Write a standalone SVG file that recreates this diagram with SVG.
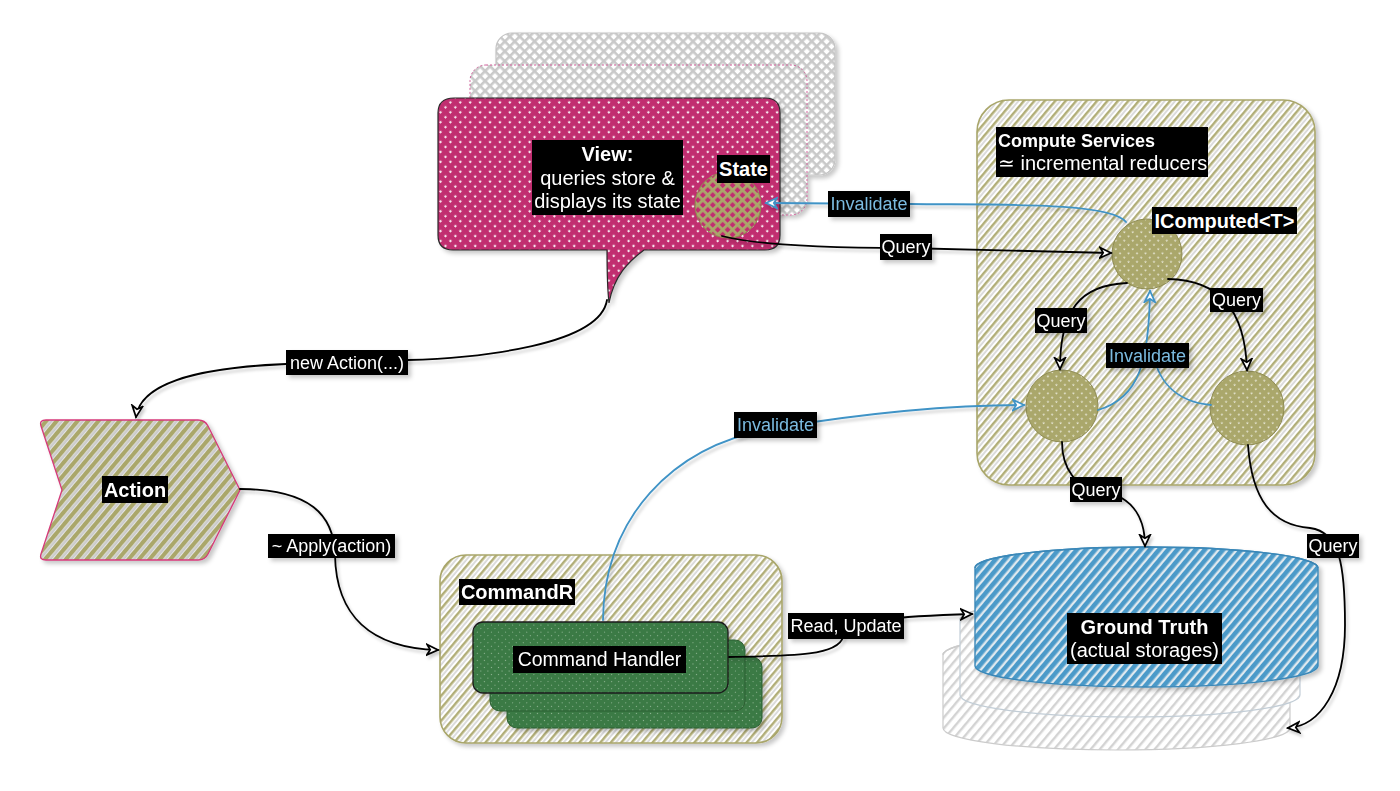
<svg xmlns="http://www.w3.org/2000/svg" width="1400" height="791" viewBox="0 0 1400 791">
<defs>
<style>
.lbl{fill:#000;}
.t{font-family:"Liberation Sans",Arial,sans-serif;fill:#fff;}
.e{font-size:18px;text-anchor:middle;}
.inv{fill:#7bbbe0;}
.n{font-size:20px;}
.b{font-weight:bold;}
.c{text-anchor:middle;}
.edge{fill:none;stroke:#000;stroke-width:1.8;stroke-linecap:round;}
.blue{stroke:#3f93c6;}
</style>
<filter id="sh" x="-10%" y="-10%" width="130%" height="130%"><feDropShadow dx="3" dy="3" stdDeviation="2" flood-color="#000" flood-opacity="0.22"/></filter>
<filter id="shl" x="-10%" y="-10%" width="130%" height="130%"><feDropShadow dx="2" dy="3" stdDeviation="1.5" flood-color="#000" flood-opacity="0.2"/></filter>
<pattern id="pPink" width="7" height="7" patternUnits="userSpaceOnUse" patternTransform="rotate(45)"><rect width="7" height="7" fill="#f6e3ec"/><rect width="4.8" height="7" fill="#c12e70"/><rect width="7" height="4.8" fill="#c12e70"/></pattern>
<pattern id="pDot" width="6" height="6" patternUnits="userSpaceOnUse" patternTransform="rotate(45)"><rect width="6" height="6" fill="#ecebdc"/><rect width="4.4" height="6" fill="#aaa76b"/><rect width="6" height="4.4" fill="#aaa76b"/></pattern>
<pattern id="pStateDot" width="7" height="7" patternUnits="userSpaceOnUse" patternTransform="rotate(45)"><rect width="7" height="7" fill="#c12e70"/><rect width="2.8" height="7" fill="#aaa76b"/><rect width="7" height="2.8" fill="#aaa76b"/></pattern>
<pattern id="pOlive" width="8" height="8" patternUnits="userSpaceOnUse" patternTransform="rotate(40)"><rect width="8" height="8" fill="#fff"/><rect x="0" width="2.5" height="8" fill="#b1ae78"/><rect x="4.3" width="1.6" height="8" fill="#d4d4d4"/></pattern>
<pattern id="pAction" width="8" height="8" patternUnits="userSpaceOnUse" patternTransform="rotate(40)"><rect width="8" height="8" fill="#e4e4e4"/><rect x="0" width="4.2" height="8" fill="#aaa76b"/><rect x="5.4" width="1.4" height="8" fill="#c2c2c2"/></pattern>
<pattern id="pBlue" width="7" height="7" patternUnits="userSpaceOnUse" patternTransform="rotate(40)"><rect width="7" height="7" fill="#dfe9ef"/><rect x="0" width="4.6" height="7" fill="#4b9ac9"/></pattern>
<pattern id="pGreen" width="5" height="5" patternUnits="userSpaceOnUse" patternTransform="rotate(45)"><rect width="5" height="5" fill="#8fb595"/><rect width="4" height="5" fill="#3b7a44"/><rect width="5" height="4" fill="#3b7a44"/></pattern>
<pattern id="pGray" width="7" height="7" patternUnits="userSpaceOnUse" patternTransform="rotate(45)"><rect width="7" height="7" fill="#fff"/><rect width="2.6" height="7" fill="#c9c9c9"/><rect width="7" height="2.6" fill="#c9c9c9"/></pattern>
<pattern id="pGrayH" width="7" height="7" patternUnits="userSpaceOnUse" patternTransform="rotate(40)"><rect width="7" height="7" fill="#fff"/><rect width="2.4" height="7" fill="#cfcfcf"/></pattern>
<marker id="ah" viewBox="0 0 12 12" refX="10.5" refY="6" markerWidth="14" markerHeight="14" markerUnits="userSpaceOnUse" orient="auto"><path d="M1,1.5 L10.5,6 L1,10.5 L3.8,6 Z" fill="#fff" stroke="#000" stroke-width="1.5"/></marker>
<marker id="ahb" viewBox="0 0 12 12" refX="10.5" refY="6" markerWidth="14" markerHeight="14" markerUnits="userSpaceOnUse" orient="auto"><path d="M1,1.5 L10.5,6 L1,10.5 L3.8,6 Z" fill="#fff" stroke="#3f93c6" stroke-width="1.5"/></marker>
</defs>
<rect width="1400" height="791" fill="#fff"/>

<g id="view-stack" filter="url(#sh)">
<rect x="496" y="33" width="339" height="142" rx="16" fill="url(#pGray)" stroke="#c4c4c4" stroke-width="1.2"/>
<rect x="470" y="65" width="337" height="150" rx="16" fill="url(#pGray)" stroke="#d0609a" stroke-width="1" stroke-dasharray="2 2"/>
</g>

<g id="view" filter="url(#sh)">
<path d="M454,98 H765 Q780,98 780,113 V235 Q780,250 765,250 H644 C628,262 614,276 609,303 C607,285 607,266 607,250 H453 Q438,250 438,235 V113 Q438,98 454,98 Z" fill="url(#pPink)" stroke="#2b2b2b" stroke-width="1.2"/>
<rect x="532" y="140" width="151" height="75" class="lbl"/>
<text class="t b c n" x="607.5" y="161">View:</text>
<text class="t c n" x="607.5" y="185">queries store &amp;</text>
<text class="t c n" x="607.5" y="208">displays its state</text>
</g>

<g id="state">
<circle cx="728" cy="205" r="33" fill="url(#pStateDot)" stroke="#8f8c52" stroke-width="1"/>
<rect x="717" y="155" width="53" height="28" class="lbl"/>
<text class="t b c n" x="743.5" y="176">State</text>
</g>

<g id="compute-services" filter="url(#sh)">
<rect x="977" y="100" width="338" height="385" rx="32" fill="url(#pOlive)" stroke="#a9a66b" stroke-width="1.6"/>
<rect x="996" y="127" width="212" height="50" class="lbl"/>
<text class="t b" x="998" y="147" font-size="18">Compute Services</text>
<text class="t" x="998" y="170" font-size="20">≃ incremental reducers</text>
</g>

<g id="icomputed">
<circle cx="1147" cy="254" r="35" fill="url(#pDot)" stroke="#8f8c52" stroke-width="1"/>
<rect x="1152" y="207" width="145" height="27" class="lbl"/>
<text class="t b c n" x="1224.5" y="228">IComputed&lt;T&gt;</text>
</g>
<g id="computed-left"><circle cx="1062" cy="406" r="36" fill="url(#pDot)" stroke="#8f8c52" stroke-width="1"/></g>
<g id="computed-right"><circle cx="1247" cy="408" r="37" fill="url(#pDot)" stroke="#8f8c52" stroke-width="1"/></g>

<g id="action" filter="url(#sh)">
<path d="M46,420 H198 Q205,420 208,426 L240,490 L208,554 Q205,560 198,560 H46 Q39,560 41,554 L62,490 L41,426 Q39,420 46,420 Z" fill="url(#pAction)" stroke="#d6397a" stroke-width="1.3"/>
<rect x="102" y="476" width="66" height="27" class="lbl"/>
<text class="t b c n" x="135" y="497">Action</text>
</g>

<g id="commandr" filter="url(#sh)">
<rect x="440" y="555" width="342" height="188" rx="26" fill="url(#pOlive)" stroke="#a9a66b" stroke-width="1.6"/>
<rect x="459" y="579" width="116" height="26" class="lbl"/>
<text class="t b c n" x="517" y="599">CommandR</text>
</g>

<g id="command-handler" filter="url(#sh)">
<rect x="507" y="657" width="255" height="71" rx="10" fill="url(#pGreen)" stroke="#2d5f33" stroke-width="1"/>
<rect x="490" y="640" width="255" height="71" rx="10" fill="url(#pGreen)" stroke="#2d5f33" stroke-width="1"/>
<rect x="473" y="622" width="255" height="71" rx="10" fill="url(#pGreen)" stroke="#1b1b1b" stroke-width="1.3"/>
<rect x="513" y="646" width="173" height="27" class="lbl"/>
<text class="t c" x="599.5" y="666" font-size="19.5">Command Handler</text>
</g>

<g id="ground-truth-stack" opacity="0.9">
<path d="M943,655 V728 A173.5,22 0 0 0 1290,728 V655 A173.5,22 0 0 0 943,655 Z" fill="url(#pGrayH)" stroke="#c6c6c6" stroke-width="1.2"/>
<path d="M943,655 A173.5,22 0 0 1 1290,655" fill="none" stroke="#c6c6c6" stroke-width="1.2"/>
<path d="M960,620 V695 A170,22 0 0 0 1300,695 V620 A170,22 0 0 0 960,620 Z" fill="url(#pGrayH)" stroke="#bcc8d2" stroke-width="1.2"/>
<path d="M960,620 A170,22 0 0 1 1300,620" fill="none" stroke="#c6c6c6" stroke-width="1.2"/>
</g>
<g id="ground-truth" filter="url(#sh)">
<path d="M975,568 V666 A171.5,21 0 0 0 1318,666 V568 A171.5,21 0 0 0 975,568 Z" fill="url(#pBlue)" stroke="#3b88b8" stroke-width="1.4"/>
<path d="M975,568 A171.5,21 0 0 1 1318,568" fill="none" stroke="#3b88b8" stroke-width="1.4"/>
<rect x="1067" y="613" width="155" height="51" class="lbl"/>
<text class="t b c n" x="1144.5" y="634">Ground Truth</text>
<text class="t c n" x="1144.5" y="657">(actual storages)</text>
</g>

<g id="connectors">
<g filter="url(#shl)">
<path class="edge" d="M607,300 C600,345 480,358 408,360 L286,364 C190,368 140,385 136,417" marker-end="url(#ah)"/>
<path class="edge" d="M240,489 C310,489 334,515 335,555 C336,615 370,648 438,650" marker-end="url(#ah)"/>
<path class="edge blue" d="M603,620 C604,520 670,445 775,428 C860,414 950,405 1024,405" marker-end="url(#ahb)"/>
<path class="edge blue" d="M1126,222 C1110,202 1000,205 910,204 L766,203" marker-end="url(#ahb)"/>
<path class="edge" d="M722,236 C760,246 840,248 905,248 L1111,253" marker-end="url(#ah)"/>
<path class="edge" d="M1127,283 C1080,285 1060,310 1060,369" marker-end="url(#ah)"/>
<path class="edge" d="M1168,279 C1220,280 1245,310 1247,370" marker-end="url(#ah)"/>
<path class="edge blue" d="M1098,410 C1140,398 1149,360 1150,291" marker-end="url(#ahb)"/>
<path class="edge blue" d="M1211,405 C1180,402 1156,385 1152,345"/>
<path class="edge" d="M1062,442 C1062,470 1078,488 1096,490 C1130,494 1145,515 1145,546" marker-end="url(#ah)"/>
<path class="edge" d="M1248,445 C1252,500 1272,525 1310,528 C1340,532 1345,565 1345,625 C1345,690 1320,726 1288,728" marker-end="url(#ah)"/>
<path class="edge" d="M729,657 C790,656 838,656 843,637 C848,620 900,616 972,614" marker-end="url(#ah)"/>
</g>
<g filter="url(#sh)">
<rect x="828" y="191" width="82" height="26" class="lbl"/><text class="t e inv" x="869" y="210">Invalidate</text>
<rect x="880" y="234" width="52" height="26" class="lbl"/><text class="t e" x="906" y="253">Query</text>
<rect x="1035" y="308" width="52" height="25" class="lbl"/><text class="t e" x="1061" y="327">Query</text>
<rect x="1210" y="288" width="53" height="24" class="lbl"/><text class="t e" x="1236.5" y="306">Query</text>
<rect x="1106" y="343" width="83" height="25" class="lbl"/><text class="t e inv" x="1147.5" y="362">Invalidate</text>
<rect x="734" y="412" width="83" height="26" class="lbl"/><text class="t e inv" x="775.5" y="431">Invalidate</text>
<rect x="286" y="350" width="122" height="25" class="lbl"/><text class="t e" x="347" y="369">new Action(...)</text>
<rect x="268" y="534" width="127" height="24" class="lbl"/><text class="t e" x="331.5" y="552">~ Apply(action)</text>
<rect x="788" y="613" width="116" height="26" class="lbl"/><text class="t e" x="846" y="632">Read, Update</text>
<rect x="1070" y="477" width="52" height="25" class="lbl"/><text class="t e" x="1096" y="496">Query</text>
<rect x="1307" y="534" width="52" height="24" class="lbl"/><text class="t e" x="1333" y="552">Query</text>
</g>
</g>
</svg>
